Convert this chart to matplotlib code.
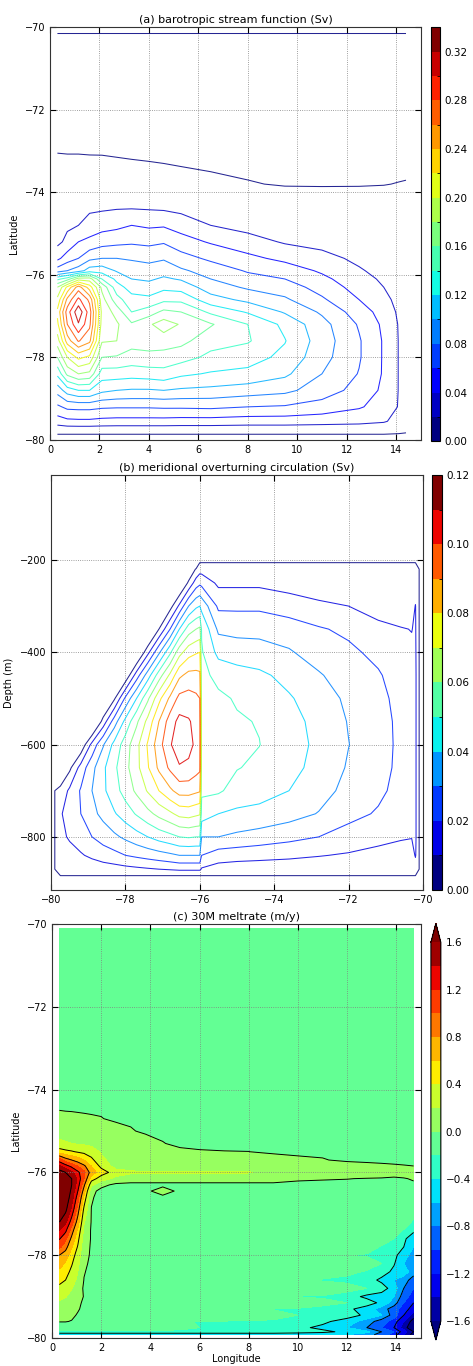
import numpy as np
import matplotlib
matplotlib.use('Agg')
import matplotlib.pyplot as plt
from matplotlib import colors as mcolors, cm

plt.rcParams['font.family'] = 'DejaVu Sans'
plt.rcParams['font.size'] = 7
plt.rcParams['xtick.direction'] = 'in'
plt.rcParams['ytick.direction'] = 'in'
plt.rcParams['xtick.top'] = True
plt.rcParams['ytick.right'] = True
plt.rcParams['xtick.major.size'] = 4
plt.rcParams['ytick.major.size'] = 4
plt.rcParams['contour.negative_linestyle'] = 'solid'

# ---------------- (a) barotropic stream function, Sv ----------------
lon_a = [0.3, 0.7, 1.15, 1.6, 2.1, 2.7, 3.3, 4.0, 4.6, 5.3, 6.5, 8.0, 9.5, 11.0, 12.5, 13.5, 14.1, 14.4]
lat_a = [-79.95, -79.8, -79.55, -79.2, -78.8, -78.4, -78.0, -77.6, -77.2, -76.9, -76.6, -76.3,
         -76.1, -75.9, -75.6, -75.2, -74.8, -74.4, -73.8, -73.0, -72.0, -71.0, -70.2, -70.1]
# one list per longitude, south -> north
psi_cols = [
    [-0.004, 0.003, 0.03, 0.056, 0.088, 0.125, 0.16, 0.19, 0.215, 0.225, 0.205, 0.18, 0.135, 0.07, 0.035, 0.015, 0.012, 0.009, 0.003, -0.0002, -0.001, -0.001, -0.001, 0.001],
    [-0.004, 0.003, 0.035, 0.065, 0.11, 0.165, 0.2, 0.25, 0.28, 0.29, 0.265, 0.225, 0.15, 0.08, 0.05, 0.025, 0.017, 0.012, 0.003, -0.0003, -0.001, -0.001, -0.001, 0.001],
    [-0.004, 0.003, 0.036, 0.066, 0.12, 0.18, 0.225, 0.282, 0.318, 0.335, 0.305, 0.27, 0.19, 0.09, 0.06, 0.04, 0.02, 0.015, 0.003, -0.0003, -0.001, -0.001, -0.001, 0.001],
    [-0.004, 0.003, 0.036, 0.066, 0.12, 0.175, 0.215, 0.265, 0.285, 0.29, 0.275, 0.23, 0.19, 0.11, 0.075, 0.045, 0.028, 0.017, 0.003, -0.0004, -0.001, -0.001, -0.001, 0.001],
    [-0.004, 0.003, 0.034, 0.063, 0.105, 0.13, 0.16, 0.182, 0.192, 0.195, 0.188, 0.175, 0.14, 0.112, 0.08, 0.052, 0.032, 0.018, 0.0028, -0.0004, -0.001, -0.001, -0.001, 0.001],
    [-0.004, 0.003, 0.033, 0.062, 0.1, 0.13, 0.158, 0.18, 0.183, 0.172, 0.148, 0.128, 0.115, 0.098, 0.08, 0.055, 0.035, 0.0195, 0.0026, -0.0006, -0.001, -0.001, -0.001, 0.001],
    [-0.004, 0.003, 0.033, 0.062, 0.098, 0.128, 0.152, 0.168, 0.163, 0.14, 0.127, 0.112, 0.1, 0.09, 0.078, 0.057, 0.04, 0.02, 0.0024, -0.0008, -0.001, -0.001, -0.001, 0.001],
    [-0.004, 0.003, 0.033, 0.062, 0.098, 0.13, 0.155, 0.168, 0.177, 0.15, 0.125, 0.108, 0.097, 0.088, 0.075, 0.055, 0.037, 0.019, 0.0022, -0.001, -0.001, -0.001, -0.001, 0.001],
    [-0.004, 0.003, 0.033, 0.063, 0.1, 0.133, 0.152, 0.17, 0.19, 0.165, 0.135, 0.115, 0.103, 0.092, 0.078, 0.058, 0.038, 0.018, 0.002, -0.0012, -0.001, -0.001, -0.001, 0.001],
    [-0.004, 0.003, 0.032, 0.063, 0.097, 0.124, 0.148, 0.166, 0.178, 0.16, 0.135, 0.112, 0.098, 0.083, 0.068, 0.048, 0.032, 0.015, 0.0017, -0.0015, -0.001, -0.001, -0.001, 0.001],
    [-0.004, 0.003, 0.032, 0.064, 0.095, 0.118, 0.135, 0.148, 0.162, 0.136, 0.108, 0.09, 0.08, 0.072, 0.056, 0.038, 0.02, 0.01, 0.0012, -0.002, -0.001, -0.001, -0.001, 0.001],
    [-0.004, 0.003, 0.03, 0.06, 0.09, 0.115, 0.128, 0.142, 0.14, 0.118, 0.095, 0.077, 0.067, 0.058, 0.045, 0.028, 0.013, 0.008, 0.0004, -0.0028, -0.001, -0.001, -0.001, 0.001],
    [-0.004, 0.003, 0.03, 0.058, 0.085, 0.104, 0.115, 0.121, 0.115, 0.098, 0.083, 0.07, 0.06, 0.051, 0.035, 0.018, 0.01, 0.0055, -0.0005, -0.001, -0.001, -0.001, -0.001, 0.001],
    [-0.004, 0.003, 0.028, 0.052, 0.07, 0.08, 0.087, 0.09, 0.087, 0.077, 0.063, 0.052, 0.045, 0.037, 0.026, 0.014, 0.009, 0.0054, -0.0006, -0.001, -0.001, -0.001, -0.001, 0.001],
    [-0.004, 0.003, 0.026, 0.042, 0.053, 0.059, 0.062, 0.062, 0.058, 0.05, 0.04, 0.032, 0.027, 0.022, 0.016, 0.011, 0.008, 0.005, -0.0005, -0.001, -0.001, -0.001, -0.001, 0.001],
    [-0.004, 0.003, 0.022, 0.032, 0.036, 0.038, 0.038, 0.038, 0.036, 0.032, 0.026, 0.02, 0.017, 0.014, 0.011, 0.008, 0.006, 0.004, -0.0002, -0.001, -0.001, -0.001, -0.001, 0.001],
    [-0.004, 0.002, 0.014, 0.019, 0.0195, 0.0195, 0.0195, 0.0195, 0.019, 0.017, 0.014, 0.011, 0.01, 0.008, 0.006, 0.005, 0.004, 0.003, 0.0002, -0.003, -0.001, -0.001, -0.001, 0.001],
    [-0.004, 0.001, 0.008, 0.01, 0.01, 0.01, 0.01, 0.01, 0.01, 0.009, 0.008, 0.007, 0.006, 0.005, 0.004, 0.003, 0.003, 0.002, 0.0004, -0.003, -0.001, -0.001, -0.001, 0.001],
]
levels_a = np.round(np.arange(0, 0.3401, 0.02), 2)

# ---------------- (b) meridional overturning, Sv ----------------
lat_b = [-79.9, -79.75, -79.5, -79.2, -78.9, -78.6, -78.3, -78.0, -77.7, -77.4, -77.1, -76.8, -76.55,
         -76.3, -76.1, -76.0, -75.95, -75.5, -75.0, -74.4, -73.6, -72.8, -72.0, -71.2, -70.6, -70.3,
         -70.2, -70.1]
depth_b = [-884, -870, -840, -800, -750, -700, -650, -600, -550, -500, -450, -400, -350, -300, -250, -220, -206, -150]
# one list per latitude, bottom -> top (small negatives sit inside the ice shelf)
moc_cols = [
    [0, 0, 0, 0, 0, 0, 0, 0, 0, 0, 0, 0, 0, 0, 0, 0, 0, 0],
    [0, 0.002, 0.005, 0.008, 0.009, 0.003, -0.012, -0.012, -0.012, -0.012, -0.012, -0.012, -0.012, -0.012, -0.012, -0.012, -0.012, -0.012],
    [0, 0.0025, 0.007, 0.011, 0.014, 0.012, -0.0023, -0.0023, -0.0023, -0.0023, -0.0023, -0.0023, -0.0023, -0.0023, -0.0023, -0.0023, -0.0023, -0.0023],
    [0, 0.003, 0.009, 0.015, 0.02, 0.021, 0.014, -0.0086, -0.0086, -0.0086, -0.0086, -0.0086, -0.0086, -0.0086, -0.0086, -0.0086, -0.0086, -0.0086],
    [0, 0.004, 0.012, 0.02, 0.027, 0.03, 0.027, 0.013, -0.0195, -0.0195, -0.0195, -0.0195, -0.0195, -0.0195, -0.0195, -0.0195, -0.0195, -0.0195],
    [0, 0.005, 0.015, 0.024, 0.033, 0.038, 0.038, 0.029, 0.004, -0.018, -0.018, -0.018, -0.018, -0.018, -0.018, -0.018, -0.018, -0.018],
    [0, 0.006, 0.017, 0.028, 0.039, 0.046, 0.048, 0.043, 0.025, -0.0016, -0.0016, -0.0016, -0.0016, -0.0016, -0.0016, -0.0016, -0.0016, -0.0016],
    [0, 0.007, 0.02, 0.032, 0.045, 0.054, 0.057, 0.055, 0.043, 0.022, -0.0086, -0.0086, -0.0086, -0.0086, -0.0086, -0.0086, -0.0086, -0.0086],
    [0, 0.008, 0.022, 0.036, 0.051, 0.062, 0.067, 0.067, 0.058, 0.04, 0.015, -0.015, -0.015, -0.015, -0.015, -0.015, -0.015, -0.015],
    [0, 0.009, 0.024, 0.04, 0.057, 0.071, 0.079, 0.081, 0.073, 0.058, 0.035, 0.007, -0.02, -0.02, -0.02, -0.02, -0.02, -0.02],
    [0, 0.01, 0.026, 0.044, 0.063, 0.08, 0.092, 0.096, 0.09, 0.077, 0.055, 0.028, 0, -0.01, -0.01, -0.01, -0.01, -0.01],
    [0, 0.011, 0.028, 0.047, 0.068, 0.088, 0.102, 0.109, 0.105, 0.092, 0.072, 0.048, 0.02, -0.0044, -0.0044, -0.0044, -0.0044, -0.0044],
    [0, 0.012, 0.03, 0.05, 0.073, 0.094, 0.109, 0.116, 0.113, 0.103, 0.088, 0.066, 0.04, 0.012, -0.014, -0.014, -0.014, -0.014],
    [0, 0.012, 0.03, 0.051, 0.074, 0.094, 0.108, 0.113, 0.111, 0.104, 0.093, 0.076, 0.055, 0.03, 0.002, -0.01, -0.01, -0.01],
    [0, 0.012, 0.03, 0.05, 0.072, 0.092, 0.104, 0.108, 0.107, 0.102, 0.093, 0.079, 0.06, 0.038, 0.015, 0.001, -0.013, -0.013],
    [0, 0.012, 0.03, 0.05, 0.071, 0.091, 0.102, 0.104, 0.103, 0.1, 0.092, 0.08, 0.062, 0.04, 0.018, 0.006, 0, 0],
    [0, 0.009, 0.02, 0.03, 0.045, 0.052, 0.055, 0.056, 0.056, 0.055, 0.053, 0.051, 0.049, 0.037, 0.017, 0.006, 0, 0],
    [0, 0.006, 0.015, 0.03, 0.04, 0.0515, 0.053, 0.053, 0.053, 0.052, 0.047, 0.037, 0.028, 0.018, 0.008, 0.003, 0, 0],
    [0, 0.005, 0.014, 0.028, 0.038, 0.046, 0.0505, 0.0515, 0.051, 0.049, 0.044, 0.035, 0.027, 0.018, 0.008, 0.003, 0, 0],
    [0, 0.005, 0.013, 0.026, 0.037, 0.044, 0.048, 0.0502, 0.0495, 0.047, 0.042, 0.034, 0.027, 0.018, 0.008, 0.003, 0, 0],
    [0, 0.0045, 0.012, 0.023, 0.034, 0.04, 0.043, 0.044, 0.0435, 0.041, 0.037, 0.031, 0.025, 0.015, 0.006, 0.002, 0, 0],
    [0, 0.004, 0.0105, 0.02, 0.0295, 0.034, 0.037, 0.038, 0.037, 0.035, 0.031, 0.0255, 0.021, 0.012, 0.004, 0.001, 0, 0],
    [0, 0.003, 0.009, 0.016, 0.023, 0.027, 0.029, 0.0302, 0.0295, 0.028, 0.025, 0.022, 0.018, 0.01, 0.003, 0.001, 0, 0],
    [0, 0.002, 0.007, 0.013, 0.019, 0.022, 0.0235, 0.024, 0.0238, 0.0228, 0.021, 0.0175, 0.0125, 0.006, 0.002, 0.0005, 0, 0],
    [0, 0.0015, 0.006, 0.011, 0.015, 0.017, 0.0178, 0.018, 0.0178, 0.017, 0.0155, 0.013, 0.0105, 0.005, 0.0015, 0.0004, 0, 0],
    [0, 0.001, 0.005, 0.0105, 0.0115, 0.012, 0.012, 0.012, 0.012, 0.012, 0.0118, 0.0112, 0.0098, 0.004, 0.0012, 0.0003, 0, 0],
    [0, 0.004, 0.011, 0.012, 0.012, 0.012, 0.012, 0.012, 0.012, 0.012, 0.012, 0.0115, 0.011, 0.0105, 0.002, 0.0005, 0, 0],
    [0, 0, 0, 0, 0, 0, 0, 0, 0, 0, 0, 0, 0, 0, 0, 0, 0, 0],
]
levels_b = np.round(np.arange(0, 0.1201, 0.01), 2)

# ---------------- (c) 30M meltrate, m/y ----------------
lon_c = [0.3, 0.55, 0.8, 1.05, 1.3, 1.6, 2.0, 2.6, 3.2, 3.8, 4.5, 5.2, 6.0, 7.0, 8.0, 9.0, 10.0,
         11.0, 12.0, 12.8, 13.4, 13.9, 14.3, 14.7]
lat_c = [-79.92, -79.85, -79.75, -79.6, -79.45, -79.3, -79.15, -79.0, -78.8, -78.6, -78.4, -78.2,
         -78.0, -77.8, -77.6, -77.4, -77.2, -76.9, -76.6, -76.45, -76.3, -76.15, -76.0, -75.85,
         -75.7, -75.5, -75.3, -75.0, -74.7, -74.4, -74.0, -72.0, -70.1]
# one list per latitude, west -> east
melt_rows = [
    [-.55, -.55, -.55, -.55, -.55, -.55, -.55, -.55, -.55, -.55, -.55, -.55, -.55, -.55, -.55, -.55, -.55, -.55, -.6, -.7, -.9, -1.1, -1.4, -1.7],
    [-.25, -.25, -.25, -.25, -.25, -.25, -.25, -.25, -.25, -.25, -.25, -.25, -.25, -.25, -.25, -.25, -.3, -.35, -.45, -.55, -.8, -1.0, -1.3, -1.6],
    [-.12, -.12, -.12, -.12, -.12, -.12, -.12, -.12, -.12, -.12, -.12, -.14, -.2, -.22, -.25, -.3, -.35, -.45, -.6, -.8, -1.0, -1.2, -1.5, -1.8],
    [.01, .01, -.01, -.05, -.05, -.05, -.05, -.05, -.05, -.05, -.05, -.18, -.21, -.21, -.22, -.23, -.25, -.35, -.5, -.7, -.9, -1.1, -1.4, -1.7],
    [.06, .05, .04, -.02, -.05, -.05, -.05, -.05, -.05, -.05, -.05, -.05, -.05, -.05, -.05, -.12, -.2, -.22, -.3, -.45, -.6, -.9, -1.2, -1.5],
    [.12, .1, .08, .02, -.05, -.05, -.05, -.05, -.05, -.05, -.05, -.05, -.1, -.2, -.21, -.21, -.22, -.25, -.35, -.5, -.7, -.9, -1.1, -1.3],
    [.17, .15, .11, .05, -.04, -.05, -.05, -.05, -.05, -.05, -.05, -.05, -.05, -.05, -.05, -.05, -.05, -.15, -.2, -.3, -.45, -.7, -1.0, -1.2],
    [.25, .21, .15, .08, -.01, -.05, -.05, -.05, -.05, -.05, -.05, -.05, -.05, -.1, -.2, -.2, -.21, -.22, -.3, -.45, -.5, -.6, -.9, -1.1],
    [.35, .3, .21, .12, -.03, -.05, -.05, -.05, -.05, -.05, -.05, -.05, -.05, -.05, -.05, -.05, -.05, -.05, -.12, -.2, -.3, -.5, -.8, -1.0],
    [.46, .4, .28, .16, -.005, -.05, -.05, -.05, -.05, -.05, -.05, -.05, -.05, -.05, -.05, -.1, -.2, -.22, -.25, -.3, -.45, -.6, -.7, -.9],
    [.56, .48, .35, .2, .01, -.04, -.05, -.05, -.05, -.05, -.05, -.05, -.05, -.05, -.05, -.05, -.05, -.05, -.15, -.22, -.3, -.45, -.5, -.7],
    [.68, .58, .42, .25, .03, -.03, -.05, -.05, -.05, -.05, -.05, -.05, -.05, -.05, -.05, -.05, -.05, -.05, -.05, -.1, -.2, -.38, -.6, -.8],
    [.8, .7, .5, .3, .05, -.02, -.05, -.05, -.05, -.05, -.05, -.05, -.05, -.05, -.05, -.05, -.05, -.1, -.2, -.22, -.25, -.35, -.5, -.7],
    [1.05, .88, .62, .38, .08, -.02, -.05, -.05, -.05, -.05, -.05, -.05, -.05, -.05, -.05, -.05, -.05, -.05, -.05, -.1, -.22, -.3, -.4, -.6],
    [1.22, 1.05, .75, .46, .12, -.016, -.05, -.05, -.05, -.05, -.05, -.05, -.05, -.05, -.05, -.05, -.05, -.05, -.05, -.05, -.08, -.2, -.35, -.55],
    [1.4, 1.25, .9, .56, .16, -.02, -.05, -.05, -.05, -.05, -.05, -.05, -.05, -.05, -.05, -.05, -.05, -.05, -.05, -.05, -.05, -.08, -.22, -.35],
    [1.6, 1.45, 1.1, .7, .22, -.01, -.05, -.05, -.05, -.05, -.05, -.05, -.05, -.05, -.05, -.05, -.05, -.05, -.05, -.05, -.05, -.05, -.05, -.25],
    [1.8, 1.65, 1.35, .9, .35, -.005, -.05, -.05, -.05, -.05, -.05, -.05, -.05, -.05, -.05, -.05, -.05, -.05, -.05, -.05, -.05, -.05, -.05, -.05],
    [1.9, 1.75, 1.5, 1.1, .55, .0167, -.05, -.05, -.05, -.05, -.05, -.05, -.05, -.05, -.05, -.05, -.05, -.05, -.05, -.05, -.05, -.05, -.05, -.05],
    [1.9, 1.8, 1.55, 1.2, .7, .05, -.05, -.05, -.05, -.05, .1, -.05, -.05, -.05, -.05, -.05, -.05, -.05, -.05, -.05, -.05, -.05, -.05, -.05],
    [1.9, 1.8, 1.6, 1.3, .85, .25, .05, -.04, -.05, -.05, -.05, -.05, -.05, -.05, -.05, -.05, -.05, -.05, -.05, -.05, -.05, -.05, -.05, -.05],
    [1.85, 1.75, 1.6, 1.35, 1.0, .5, .3, .15, .1, .1, .1, .1, .1, .1, .1, .1, .03, .015, .005, -.01, -.02, -.05, -.02, .03],
    [1.7, 1.6, 1.45, 1.25, 1.05, .7, .5, .3, .23, .21, .21, .21, .21, .21, .21, .15, .15, .15, .15, .15, .15, .15, .15, .12],
    [1.45, 1.3, 1.15, 1.0, .85, .6, .35, .12, .12, .12, .12, .12, .12, .12, .12, .12, .12, .1, .15, .075, .044, .025, .0125, .002],
    [1.1, .9, .8, .7, .6, .45, .25, .1, .1, .1, .1, .1, .1, .1, .1, .15, .05, .017, -.05, -.05, -.05, -.05, -.05, -.05],
    [.5, .45, .42, .38, .35, .3, .18, .1, .1, .1, .1, .05, .017, .006, .002, -.05, -.05, -.05, -.05, -.05, -.05, -.05, -.05, -.05],
    [.24, .22, .2, .18, .17, .15, .12, .1, .1, .15, .01, -.05, -.05, -.05, -.05, -.05, -.05, -.05, -.05, -.05, -.05, -.05, -.05, -.05],
    [.12, .11, .1, .1, .1, .1, .1, .12, .025, -.05, -.05, -.05, -.05, -.05, -.05, -.05, -.05, -.05, -.05, -.05, -.05, -.05, -.05, -.05],
    [.1, .075, .065, .05, .038, .025, .01, -.05, -.05, -.05, -.05, -.05, -.05, -.05, -.05, -.05, -.05, -.05, -.05, -.05, -.05, -.05, -.05, -.05],
    [-.05, -.05, -.05, -.05, -.05, -.05, -.05, -.05, -.05, -.05, -.05, -.05, -.05, -.05, -.05, -.05, -.05, -.05, -.05, -.05, -.05, -.05, -.05, -.05],
    [-.05, -.05, -.05, -.05, -.05, -.05, -.05, -.05, -.05, -.05, -.05, -.05, -.05, -.05, -.05, -.05, -.05, -.05, -.05, -.05, -.05, -.05, -.05, -.05],
    [-.05, -.05, -.05, -.05, -.05, -.05, -.05, -.05, -.05, -.05, -.05, -.05, -.05, -.05, -.05, -.05, -.05, -.05, -.05, -.05, -.05, -.05, -.05, -.05],
    [-.05, -.05, -.05, -.05, -.05, -.05, -.05, -.05, -.05, -.05, -.05, -.05, -.05, -.05, -.05, -.05, -.05, -.05, -.05, -.05, -.05, -.05, -.05, -.05],
]
levels_c = np.round(np.arange(-1.6, 1.601, 0.2), 1)
lines_c = np.round(np.arange(-1.6, 1.601, 0.4), 1)


def style(ax):
    ax.grid(True, linestyle=':', color='gray', linewidth=0.6)
    ax.tick_params(labelsize=7, length=4, width=0.8)
    for s in ax.spines.values():
        s.set_color('#333333')


def band_colorbar(fig, cax, bounds, ticks):
    sm = cm.ScalarMappable(norm=mcolors.BoundaryNorm(bounds, 256), cmap='jet')
    cb = fig.colorbar(sm, cax=cax, ticks=ticks)
    cb.ax.tick_params(labelsize=7.5, length=0)
    cb.outline.set_linewidth(0.8)
    return cb


fig = plt.figure(figsize=(4.73, 13.66), dpi=100)

# (a)
ax1 = fig.add_axes([0.1057, 0.678, 0.784, 0.302])
psi = np.array(psi_cols).T
ax1.contour(lon_a, lat_a, psi, levels=levels_a, cmap='jet', linewidths=0.75, alpha=0.85)
ax1.set_xlim(0, 15)
ax1.set_ylim(-80, -70)
ax1.set_xticks(np.arange(0, 15, 2))
ax1.set_yticks(np.arange(-80, -69, 2))
ax1.set_ylabel('Latitude', fontsize=7)
ax1.set_title('(a) barotropic stream function (Sv)', fontsize=8, pad=3)
style(ax1)
cax1 = fig.add_axes([0.911, 0.677, 0.019, 0.303])
band_colorbar(fig, cax1, levels_a, np.round(np.arange(0, 0.33, 0.04), 2))

# (b)
ax2 = fig.add_axes([0.108, 0.3485, 0.786, 0.3038])
moc = np.array(moc_cols).T
ax2.contour(lat_b, depth_b, moc, levels=levels_b, cmap='jet', linewidths=0.75, alpha=0.85)
ax2.set_xlim(-80, -70)
ax2.set_ylim(-915, -16)
ax2.set_xticks(np.arange(-80, -69, 2))
ax2.set_yticks([-800, -600, -400, -200])
ax2.set_ylabel('Depth (m)', fontsize=7)
ax2.set_title('(b) meridional overturning circulation (Sv)', fontsize=8, pad=3)
style(ax2)
cax2 = fig.add_axes([0.913, 0.3485, 0.021, 0.3038])
band_colorbar(fig, cax2, levels_b, np.round(np.arange(0, 0.121, 0.02), 2))

# (c)
ax3 = fig.add_axes([0.110, 0.0205, 0.780, 0.303])
melt = np.array(melt_rows)
cf = ax3.contourf(lon_c, lat_c, melt, levels=levels_c, cmap='jet', extend='both')
ax3.contour(lon_c, lat_c, melt, levels=lines_c, colors='k', linewidths=0.7)
ax3.set_xlim(0, 15)
ax3.set_ylim(-80, -70)
ax3.set_xticks(np.arange(0, 15, 2))
ax3.set_yticks(np.arange(-80, -69, 2))
ax3.set_ylabel('Latitude', fontsize=7)
ax3.set_xlabel('Longitude', fontsize=7, labelpad=1)
ax3.set_title('(c) 30M meltrate (m/y)', fontsize=8, pad=3)
style(ax3)
cax3 = fig.add_axes([0.911, 0.019, 0.021, 0.305])
cb3 = fig.colorbar(cf, cax=cax3, ticks=lines_c)
cb3.ax.tick_params(labelsize=7.5, length=0)
cb3.outline.set_linewidth(0.8)

fig.savefig('out.png', dpi=100)
